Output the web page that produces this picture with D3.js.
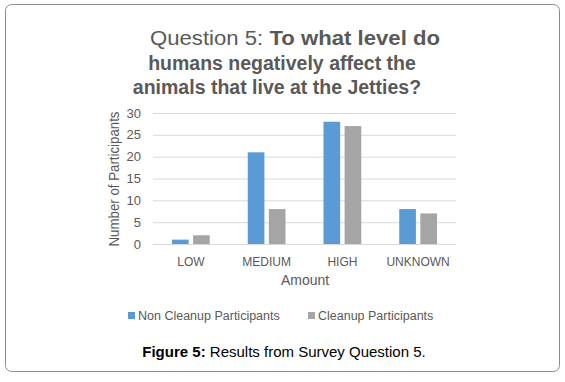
<!DOCTYPE html>
<html>
<head>
<meta charset="utf-8">
<script src="https://cdn.jsdelivr.net/npm/d3@7"></script>
<style>
  body { margin: 0; background: #fff; }
  text { font-family: "Liberation Sans", Arial, sans-serif; }
</style>
</head>
<body>
<svg id="chart" width="565" height="382"></svg>
<script>
const categories = ["LOW", "MEDIUM", "HIGH", "UNKNOWN"];
const seriesNames = ["Non Cleanup Participants", "Cleanup Participants"];
const nonCleanup = [1, 21, 28, 8];
const cleanup = [2, 8, 27, 7];
const yTicks = [0, 5, 10, 15, 20, 25, 30];
const colors = ["#5b9bd5", "#a5a5a5"];

const svg = d3.select("#chart");

// outer frame
svg.append("rect")
  .attr("x", 5.5).attr("y", 4.5).attr("width", 554).attr("height", 367)
  .attr("rx", 6).attr("fill", "#fff").attr("stroke", "#8c8c8c").attr("stroke-width", 1);

// title
const title = svg.append("text").attr("text-anchor", "middle")
  .attr("font-size", 19.5).attr("fill", "#595959");
const l1 = title.append("tspan").attr("x", 295).attr("y", 45)
  .attr("textLength", 290).attr("lengthAdjust", "spacingAndGlyphs");
l1.append("tspan").text("Question 5: ");
l1.append("tspan").attr("font-weight", "bold").text("To what level do");
title.append("tspan").attr("x", 282).attr("y", 70).attr("font-weight", "bold")
  .text("humans negatively affect the");
title.append("tspan").attr("x", 277).attr("y", 94).attr("font-weight", "bold")
  .text("animals that live at the Jetties?");

/* ---------- scales ---------- */
const plot = { left: 153, right: 456, top: 113, bottom: 244 };
const x = d3.scaleBand().domain(categories).range([plot.left, plot.right]);
const y = d3.scaleLinear().domain([0, 30]).range([plot.bottom, plot.top]);
const xs = d3.scaleBand().domain([0, 1]).range([0, x.bandwidth()]).paddingInner(0.21).paddingOuter(0.9);

// gridlines
svg.append("g").selectAll("line").data(yTicks).join("line")
  .attr("x1", plot.left).attr("x2", plot.right)
  .attr("y1", d => y(d) + 0.5).attr("y2", d => y(d) + 0.5)
  .attr("stroke", "#d9d9d9").attr("stroke-width", 1);

// y tick labels
svg.append("g").selectAll("text").data(yTicks).join("text")
  .attr("x", 141).attr("y", d => y(d)).attr("dy", "0.35em")
  .attr("text-anchor", "end").attr("font-size", 13).attr("fill", "#595959")
  .text(d => d);

// bars
const series = [nonCleanup, cleanup];
series.forEach((vals, si) => {
  svg.append("g").selectAll("rect").data(vals).join("rect")
    .attr("x", (d, i) => x(categories[i]) + xs(si))
    .attr("width", xs.bandwidth())
    .attr("y", d => y(d))
    .attr("height", d => y(0) - y(d))
    .attr("fill", colors[si]);
});

// x tick labels
svg.append("g").selectAll("text").data(categories).join("text")
  .attr("x", d => x(d) + x.bandwidth() / 2).attr("y", 266)
  .attr("text-anchor", "middle").attr("font-size", 12).attr("fill", "#595959")
  .text(d => d);

// axis titles
svg.append("text").attr("x", 305).attr("y", 285).attr("text-anchor", "middle")
  .attr("font-size", 14).attr("fill", "#595959").text("Amount");
svg.append("text").attr("transform", "translate(119,179) rotate(-90)")
  .attr("text-anchor", "middle").attr("font-size", 14).attr("fill", "#595959")
  .attr("textLength", 135).attr("lengthAdjust", "spacingAndGlyphs")
  .text("Number of Participants");

// legend
const legendX = [128, 308];
seriesNames.forEach((name, i) => {
  svg.append("rect").attr("x", legendX[i]).attr("y", 312).attr("width", 7).attr("height", 7)
    .attr("fill", colors[i]);
  svg.append("text").attr("x", legendX[i] + 10).attr("y", 319.5)
    .attr("font-size", 12.5).attr("fill", "#595959").text(name);
});

// caption
const cap = svg.append("text").attr("x", 284).attr("y", 357).attr("text-anchor", "middle")
  .attr("font-size", 15).attr("fill", "#000");
cap.append("tspan").attr("font-weight", "bold").text("Figure 5:");
cap.append("tspan").text(" Results from Survey Question 5.");
</script>
</body>
</html>
